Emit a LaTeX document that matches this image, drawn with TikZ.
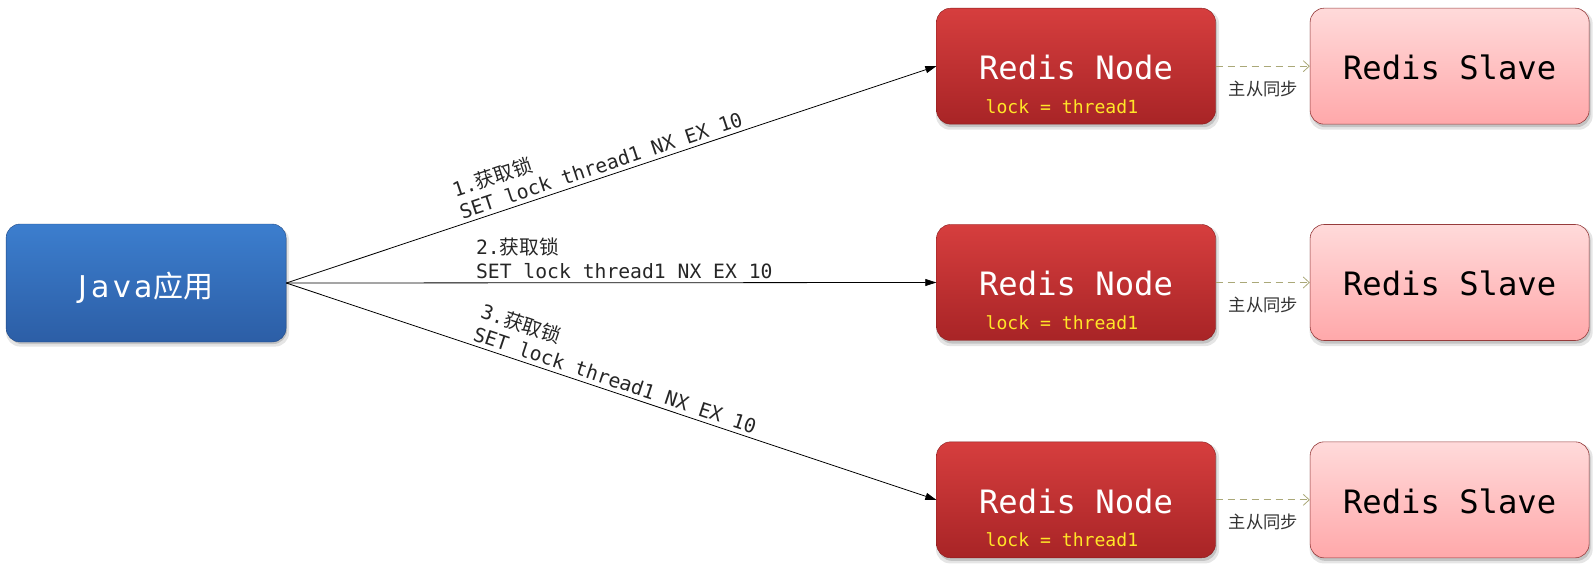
\documentclass[tikz,border=0pt]{standalone}
\usepackage{fontspec}
\setmonofont{DejaVu Sans Mono}
\newfontfamily\cjk{Noto Sans CJK SC}
\newfontfamily\javafont[LetterSpace=12]{DejaVu Sans}
\usetikzlibrary{arrows.meta}
\newcommand\hz[1]{{\cjk #1}}
\definecolor{nodetop}{RGB}{214,62,62}
\definecolor{nodebot}{RGB}{168,36,38}
\definecolor{slavetop}{RGB}{255,218,218}
\definecolor{slavebot}{RGB}{255,168,170}
\definecolor{slaveedge}{RGB}{150,60,60}
\definecolor{javatop}{RGB}{60,126,206}
\definecolor{javabot}{RGB}{44,94,166}
\definecolor{syncline}{RGB}{170,168,120}
\definecolor{lockyellow}{RGB}{255,230,40}
\begin{document}
\begin{tikzpicture}[x=1.018bp,y=-1.018bp,
  basebox/.style={rounded corners=14bp, minimum width=279bp, minimum height=116bp, inner sep=0pt},
  shadowbox/.style={basebox, fill=black, draw=none},
  javabox/.style={basebox, minimum width=280bp, minimum height=118bp, top color=javatop, bottom color=javabot, draw=javabot!80!black, line width=0.4bp},
  nodebox/.style={basebox, top color=nodetop, bottom color=nodebot, draw=nodebot!80!black, line width=0.4bp},
  slavebox/.style={basebox, top color=slavetop, bottom color=slavebot, draw=slaveedge, line width=0.6bp},
  title/.style={anchor=base, inner sep=0pt, font=\fontsize{32.2bp}{35bp}\ttfamily},
  locktext/.style={anchor=base west, inner sep=0pt, text=lockyellow, font=\fontsize{18.1bp}{20bp}\ttfamily},
  req/.style={line width=0.8bp, -{Triangle[length=11bp,width=7bp]}},
  reqlabel/.style={inner sep=4bp, align=left, text=black!85, font=\fontsize{19.7bp}{23.4bp}\ttfamily},
  sync/.style={syncline, line width=0.8bp, dash pattern=on 7bp off 5bp, -{Straight Barb[length=6bp,width=11bp]}},
  synclabel/.style={inner sep=0pt, text=black!80, font=\fontsize{17.3bp}{20bp}\cjk}
]
\useasboundingbox (0,0) rectangle (1567.8,557);

% soft shadows
\foreach \x/\y/\n in {143.5/278/j,1057/65/a,1057/277.5/b,1057/491/c,1424/65/d,1424/277.5/e,1424/491/f}{
  \node[shadowbox, opacity=0.10, minimum width=283bp, minimum height=120bp] (sha\n) at (\x+1.5,\y+3.5) {};
  \node[shadowbox, opacity=0.15] (shb\n) at (\x+1.5,\y+3) {};
}

\node[javabox] (java) at (143.5,278) {};
\node[anchor=base, inner sep=0pt, text=white] (javat) at (143.5,292) {\fontsize{30bp}{34bp}\javafont Java\hz{应用}};

\foreach \i/\y in {1/65,2/277.5,3/491}{
  \node[nodebox] (n\i) at (1057,\y) {};
  \node[title, text=white] (nt\i) at (1057,\y+13) {Redis Node};
  \node[locktext] (lk\i) at (968,\y+46) {lock = thread1};
  \node[slavebox] (s\i) at (1424,\y) {};
  \node[title, text=black] (st\i) at (1424,\y+13) {Redis Slave};
  \draw[sync] (n\i.east) -- (s\i.west);
  \node[synclabel] (sl\i) at (1241,\y+22) {主从同步};
}

\draw[req] (java.east) -- (n1.west)
  node[reqlabel, pos=0.49, sloped, above] (l1) {1.\hz{获取锁}\\SET lock thread1 NX EX 10};
\draw[req] (java.east) -- (n2.west)
  node[reqlabel, pos=0.52, above] (l2) {2.\hz{获取锁}\\SET lock thread1 NX EX 10};
\draw[req] (java.east) -- (n3.west)
  node[reqlabel, pos=0.50, sloped, above] (l3) {3.\hz{获取锁}\\SET lock thread1 NX EX 10};
\end{tikzpicture}
\end{document}
